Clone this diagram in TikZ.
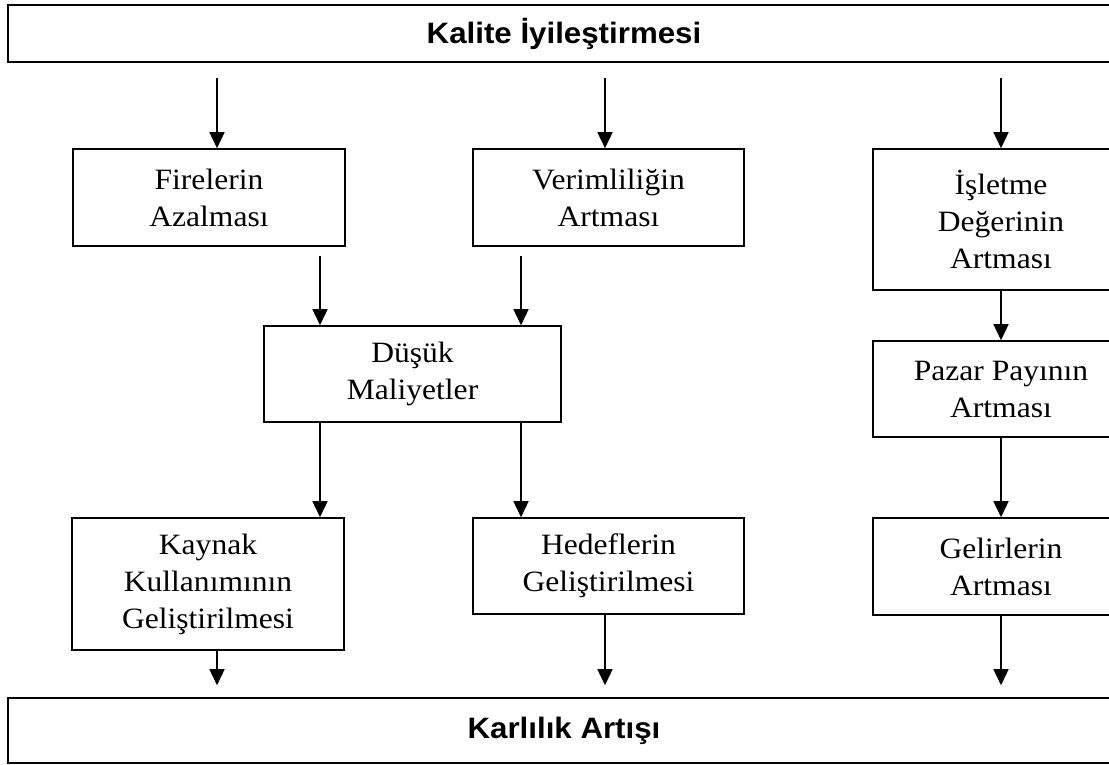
\documentclass[tikz,border=0pt]{standalone}
\usepackage{fontspec}
\usetikzlibrary{arrows.meta}
\newfontfamily\boxfont[FakeStretch=1.07]{Liberation Serif}
\newfontfamily\headfont[FakeStretch=1.06]{Liberation Sans}

\tikzset{
  stepbox/.style={draw, line width=1.6pt, inner sep=0pt, align=center,
    font=\boxfont\fontsize{29.5}{37}\selectfont},
  bandbox/.style={draw, line width=1.6pt, inner sep=0pt, align=center,
    font=\headfont\bfseries\fontsize{29.5}{34}\selectfont},
  arr/.style={line width=1.6pt, -{Triangle[width=15pt,length=16pt]}}
}

% box from (x1,y1) to (x2,y2), given in pixel-like units
\newcommand{\boxat}[7]{%
  \node[#1, minimum width={(#5-#3)*1pt}, minimum height={(#6-#4)*1pt}]
    (#2) at ({(#3+#5)/2},{(#4+#6)/2}) {#7};}

\begin{document}
\begin{tikzpicture}[x=1pt,y=-1pt]
\useasboundingbox (0,0) rectangle (1109,765);
\clip (0,0) rectangle (1109,765);

% arrow columns
\coordinate (cA) at (217,0);
\coordinate (cB) at (320,0);
\coordinate (cC) at (521,0);
\coordinate (cD) at (605,0);
\coordinate (cE) at (1001,0);

\boxat{bandbox}{top}{8}{5}{1120}{62}{Kalite İyileştirmesi}
\boxat{stepbox}{fire}{73}{149}{345}{246}{Firelerin\\Azalması}
\boxat{stepbox}{verim}{473}{149}{744}{246}{Verimliliğin\\Artması}
\boxat{stepbox}{islet}{873}{149}{1129}{290}{İşletme\\Değerinin\\Artması}
\boxat{stepbox}{dusuk}{264}{326}{561}{422}{Düşük\\Maliyetler}
\boxat{stepbox}{pazar}{873}{341}{1129}{437}{Pazar Payının\\Artması}
\boxat{stepbox}{kaynak}{72}{518}{344}{650}{Kaynak\\Kullanımının\\Geliştirilmesi}
\boxat{stepbox}{hedef}{473}{518}{744}{614}{Hedeflerin\\Geliştirilmesi}
\boxat{stepbox}{gelir}{873}{518}{1129}{615}{Gelirlerin\\Artması}
\boxat{bandbox}{bottom}{8}{698}{1120}{763}{Karlılık Artışı}

% connectors
\draw[arr, shorten <=15pt] (top.south -| cA) -- (fire.north -| cA);
\draw[arr, shorten <=15pt] (top.south -| cD) -- (verim.north -| cD);
\draw[arr, shorten <=15pt] (top.south -| cE) -- (islet.north -| cE);
\draw[arr, shorten <=9pt] (fire.south -| cB) -- (dusuk.north -| cB);
\draw[arr, shorten <=9pt] (verim.south -| cC) -- (dusuk.north -| cC);
\draw[arr] (dusuk.south -| cB) -- (kaynak.north -| cB);
\draw[arr] (dusuk.south -| cC) -- (hedef.north -| cC);
\draw[arr] (islet.south -| cE) -- (pazar.north -| cE);
\draw[arr] (pazar.south -| cE) -- (gelir.north -| cE);
\draw[arr, shorten >=12pt] (kaynak.south -| cA) -- (bottom.north -| cA);
\draw[arr, shorten >=12pt] (hedef.south -| cD) -- (bottom.north -| cD);
\draw[arr, shorten >=12pt] (gelir.south -| cE) -- (bottom.north -| cE);
\end{tikzpicture}
\end{document}
